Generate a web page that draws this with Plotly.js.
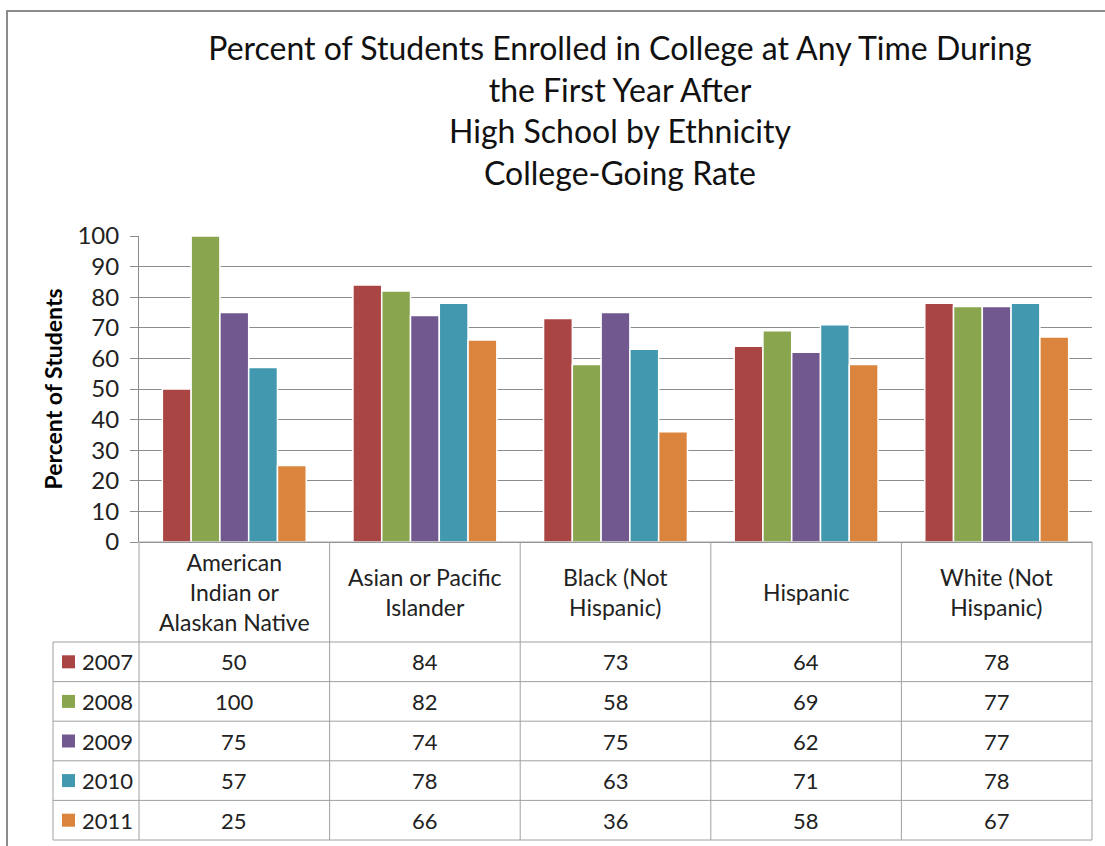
<!DOCTYPE html>
<html>
<head>
<meta charset="utf-8">
<script src="https://cdn.plot.ly/plotly-3.0.1.min.js"></script>
<style>
  html, body { margin: 0; padding: 0; background: #ffffff; }
  #chart { width: 1105px; height: 846px; }
</style>
</head>
<body>
<div id="chart"></div>
<script>
// ---- Data ----
const categories = ["American Indian or Alaskan Native", "Asian or Pacific Islander", "Black (Not Hispanic)", "Hispanic", "White (Not Hispanic)"];
const categoryLabels = ["American<br>Indian or<br>Alaskan Native", "Asian or Pacific<br>Islander", "Black (Not<br>Hispanic)", "Hispanic", "White (Not<br>Hispanic)"];
const years = ["2007", "2008", "2009", "2010", "2011"];
const values2007 = [50, 84, 73, 64, 78];
const values2008 = [100, 82, 58, 69, 77];
const values2009 = [75, 74, 75, 62, 77];
const values2010 = [57, 78, 63, 71, 78];
const values2011 = [25, 66, 36, 58, 67];
const seriesValues = [values2007, values2008, values2009, values2010, values2011];
const colors = ["#A94644", "#89A54E", "#71588F", "#4198AF", "#DB843D"];
const titleText = "Percent of Students Enrolled in College at Any Time During<br>the First Year After<br>High School by Ethnicity<br>College-Going Rate";
const yTitle = "Percent of Students";

// ---- Layout geometry (pixels) ----
const W = 1105, H = 846;
const plotL = 139, plotR = 1092, plotT = 236, plotB = 542;
const pw = plotR - plotL, ph = plotB - plotT;
const headerH = 100, rowH = 39.6;
const tableLeft = 53;
const gridColor = "#8C8C8C", tableColor = "#A0A0A0";
const FONT = "Lato, 'Open Sans', sans-serif";

const px2x = p => (p - plotL) / pw;
const px2y = p => (plotB - p) / ph;
const nCat = categories.length;
const catEdge = i => i / nCat;
const catCenter = i => (i + 0.5) / nCat;

const traces = years.map((yr, k) => ({
  type: "bar",
  name: yr,
  x: categories,
  y: seriesValues[k],
  marker: { color: colors[k], line: { color: "#FFFFFF", width: 1.5 } },
  hoverinfo: "x+y+name"
}));

const shapes = [];
const annotations = [];
const line = (x0, y0, x1, y1, color, w) => shapes.push({
  type: "line", xref: "paper", yref: "paper",
  x0: x0, y0: y0, x1: x1, y1: y1,
  line: { color: color, width: w || 1 }, layer: "above"
});

// table horizontal lines
line(0, 0, 1, 0, tableColor);
for (let r = 0; r <= years.length; r++) {
  const yp = plotB + headerH + r * rowH;
  line(px2x(tableLeft), px2y(yp), 1, px2y(yp), tableColor);
}
// vertical lines
line(px2x(tableLeft), px2y(plotB + headerH), px2x(tableLeft), px2y(plotB + headerH + years.length * rowH), tableColor);
line(0, 0, 0, px2y(plotB + headerH + years.length * rowH), tableColor);
for (let i = 1; i <= nCat; i++) {
  line(catEdge(i), 0, catEdge(i), px2y(plotB + headerH + years.length * rowH), tableColor);
}
// header labels
categoryLabels.forEach((lab, i) => annotations.push({
  xref: "paper", yref: "paper", x: catCenter(i), y: px2y(plotB + headerH / 2),
  text: lab, showarrow: false, xanchor: "center", yanchor: "middle",
  font: { family: FONT, size: 23, color: "#222222" }
}));
// rows
years.forEach((yr, k) => {
  const cy = plotB + headerH + (k + 0.5) * rowH;
  shapes.push({
    type: "rect", xref: "paper", yref: "paper",
    x0: px2x(62), x1: px2x(75), y0: px2y(cy - 6.5), y1: px2y(cy + 6.5),
    fillcolor: colors[k], line: { width: 0 }, layer: "above"
  });
  annotations.push({
    xref: "paper", yref: "paper", x: px2x(80), y: px2y(cy),
    text: yr, showarrow: false, xanchor: "left", yanchor: "middle",
    font: { family: FONT, size: 22, color: "#222222" }
  });
  seriesValues[k].forEach((v, i) => annotations.push({
    xref: "paper", yref: "paper", x: catCenter(i), y: px2y(cy),
    text: String(v), showarrow: false, xanchor: "center", yanchor: "middle",
    font: { family: FONT, size: 22, color: "#222222" }
  }));
});
// outer chart border
shapes.push({
  type: "rect", xref: "paper", yref: "paper",
  x0: px2x(7), x1: px2x(W + 20), y0: px2y(11), y1: px2y(H + 20),
  line: { color: "#8C8C8C", width: 2 }, fillcolor: "rgba(0,0,0,0)", layer: "above"
});

const layout = {
  width: W, height: H,
  margin: { l: plotL, r: W - plotR, t: plotT, b: H - plotB, pad: 0 },
  paper_bgcolor: "#FFFFFF", plot_bgcolor: "#FFFFFF",
  showlegend: false,
  barmode: "group", bargap: 0.245, bargroupgap: 0,
  title: {
    text: titleText, x: 620 / W, xanchor: "center",
    y: 1 - 60 / H, yanchor: "top", yref: "container",
    font: { family: FONT, size: 32, color: "#111111" }
  },
  xaxis: {
    type: "category", range: [-0.5, nCat - 0.5],
    showticklabels: false, showgrid: false, zeroline: false,
    showline: false, ticks: "", fixedrange: true
  },
  yaxis: {
    range: [0, 100], dtick: 10, tick0: 0,
    showgrid: true, gridcolor: gridColor, gridwidth: 1,
    zeroline: true, zerolinecolor: gridColor, zerolinewidth: 1,
    showline: true, linecolor: gridColor, linewidth: 1,
    ticks: "outside", ticklen: 8, tickcolor: gridColor,
    ticklabelstandoff: 6,
    tickfont: { family: FONT, size: 24, color: "#222222" },
    title: { text: yTitle, standoff: 8, font: { family: FONT, size: 23, color: "#000000", weight: "bold" } },
    fixedrange: true
  },
  shapes: shapes,
  annotations: annotations,
  font: { family: FONT }
};

Plotly.newPlot("chart", traces, layout, { displayModeBar: false, staticPlot: true });
</script>
</body>
</html>
